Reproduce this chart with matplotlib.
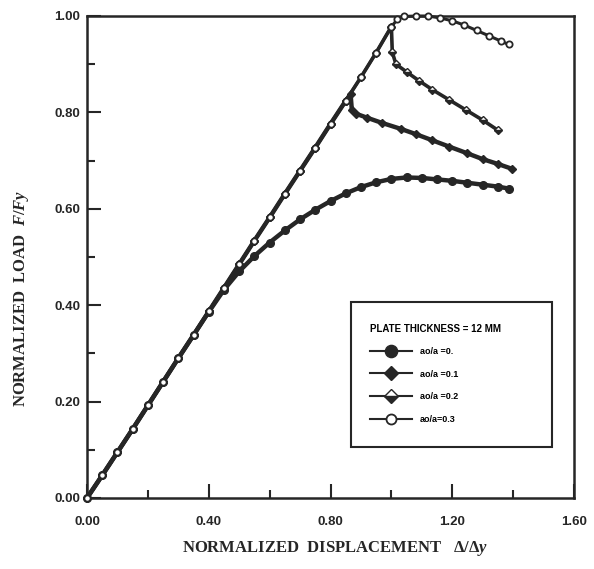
import matplotlib
matplotlib.use("Agg")
import matplotlib.pyplot as plt
from matplotlib.ticker import MultipleLocator, FormatStrFormatter
from matplotlib.patches import Rectangle

# load-displacement curves, plate thickness 12 mm
x_r0 = [0.00, 0.05, 0.10, 0.15, 0.20, 0.25, 0.30, 0.35, 0.40, 0.45, 0.50, 0.55, 0.60, 0.65,
        0.70, 0.75, 0.80, 0.85, 0.90, 0.95, 1.00, 1.05, 1.10, 1.15, 1.20, 1.25, 1.30, 1.35, 1.385]
y_r0 = [0.000, 0.047, 0.095, 0.143, 0.192, 0.241, 0.290, 0.338, 0.386, 0.432, 0.470, 0.502, 0.530, 0.555,
        0.578, 0.598, 0.616, 0.632, 0.645, 0.655, 0.662, 0.665, 0.664, 0.661, 0.658, 0.654, 0.650, 0.646, 0.642]

x_r1 = [0.00, 0.05, 0.10, 0.15, 0.20, 0.25, 0.30, 0.35, 0.40, 0.45, 0.50, 0.55, 0.60, 0.65,
        0.70, 0.75, 0.80, 0.85, 0.866, 0.870, 0.885, 0.92, 0.97, 1.03, 1.08, 1.135, 1.19, 1.25, 1.30, 1.35, 1.396]
y_r1 = [0.000, 0.047, 0.095, 0.143, 0.192, 0.241, 0.290, 0.338, 0.387, 0.436, 0.485, 0.534, 0.582, 0.631,
        0.679, 0.727, 0.776, 0.824, 0.838, 0.806, 0.797, 0.789, 0.778, 0.766, 0.755, 0.742, 0.729, 0.715, 0.703, 0.693, 0.683]

x_r2 = [0.00, 0.05, 0.10, 0.15, 0.20, 0.25, 0.30, 0.35, 0.40, 0.45, 0.50, 0.55, 0.60, 0.65,
        0.70, 0.75, 0.80, 0.85, 0.90, 0.95, 1.00, 1.003, 1.015, 1.05, 1.09, 1.135, 1.19, 1.245, 1.30, 1.35]
y_r2 = [0.000, 0.047, 0.095, 0.143, 0.192, 0.241, 0.290, 0.338, 0.387, 0.436, 0.485, 0.534, 0.582, 0.631,
        0.679, 0.727, 0.776, 0.824, 0.873, 0.924, 0.978, 0.925, 0.900, 0.884, 0.866, 0.847, 0.826, 0.805, 0.784, 0.763]

x_r3 = [0.00, 0.05, 0.10, 0.15, 0.20, 0.25, 0.30, 0.35, 0.40, 0.45, 0.50, 0.55, 0.60, 0.65,
        0.70, 0.75, 0.80, 0.85, 0.90, 0.95, 1.00, 1.02, 1.04, 1.08, 1.12, 1.16, 1.20, 1.24, 1.28, 1.32, 1.36, 1.385]
y_r3 = [0.000, 0.047, 0.095, 0.143, 0.192, 0.241, 0.290, 0.338, 0.387, 0.436, 0.485, 0.534, 0.582, 0.631,
        0.679, 0.727, 0.776, 0.824, 0.873, 0.924, 0.978, 0.993, 0.999, 1.000, 1.000, 0.996, 0.990, 0.981, 0.970, 0.959, 0.948, 0.941]

labels = ['ao/a =0.', 'ao/a =0.1', 'ao/a =0.2', 'ao/a=0.3']

plt.rcParams['mathtext.fontset'] = 'custom'
plt.rcParams['mathtext.rm'] = 'Liberation Serif:bold'
plt.rcParams['mathtext.it'] = 'Liberation Serif:italic:bold'

ink = '#262626'

fig = plt.figure(figsize=(5.94, 5.69), dpi=100)
ax = fig.add_axes([87 / 594, 1 - 498 / 569, 487 / 594, 482 / 569])

h0, = ax.plot(x_r0, y_r0, color=ink, lw=3.2, marker='o', ms=5.5, mfc=ink, mec=ink, zorder=3, clip_on=False)
h1, = ax.plot(x_r1, y_r1, color=ink, lw=3.2, marker='D', ms=4.5, mfc=ink, mec=ink, zorder=4, clip_on=False)
h2, = ax.plot(x_r2, y_r2, color=ink, lw=2.6, marker='D', ms=4.5, fillstyle='bottom', mfc=ink,
              markerfacecoloralt='white', mec=ink, mew=1, zorder=5, clip_on=False)
h3, = ax.plot(x_r3, y_r3, color=ink, lw=2.2, marker='o', ms=4.5, mfc='white', mec=ink, mew=1.3,
              zorder=6, clip_on=False)

ax.set_xlim(0, 1.6)
ax.set_ylim(0, 1.0)
ax.xaxis.set_major_locator(MultipleLocator(0.4))
ax.xaxis.set_minor_locator(MultipleLocator(0.2))
ax.yaxis.set_major_locator(MultipleLocator(0.2))
ax.yaxis.set_minor_locator(MultipleLocator(0.1))
ax.xaxis.set_major_formatter(FormatStrFormatter('%.2f'))
ax.yaxis.set_major_formatter(FormatStrFormatter('%.2f'))

for s in ax.spines.values():
    s.set_linewidth(1.8)
    s.set_color(ink)

ax.tick_params(which='both', direction='in', color=ink, width=1.5, top=False, right=False)
ax.tick_params(which='major', length=10)
ax.tick_params(which='minor', length=6)
ax.tick_params(axis='x', which='major', pad=13)
ax.tick_params(axis='y', which='major', pad=5)
for t in ax.get_xticklabels() + ax.get_yticklabels():
    t.set_fontfamily('Liberation Sans')
    t.set_fontweight('bold')
    t.set_fontsize(9.5)
    t.set_color(ink)

# legend box
ax.add_patch(Rectangle((0.542, 0.106), 0.413, 0.301, transform=ax.transAxes,
                       facecolor='white', edgecolor=ink, lw=1.5, zorder=7))
leg = ax.legend([h0, h1, h2, h3], labels, title='PLATE THICKNESS = 12 MM',
                loc='upper left', bbox_to_anchor=(0.582, 0.362), frameon=False,
                prop=dict(family='Liberation Sans', weight='bold', size=6.5),
                title_fontproperties=dict(family='Liberation Sans', weight='bold', size=7),
                alignment='left', markerscale=1.6, handlelength=4.6, handletextpad=0.9,
                labelspacing=1.5, borderpad=0, borderaxespad=0)
for line in leg.get_lines():
    line.set_linewidth(1.5)
leg.set_zorder(8)

fig.text(22 / 594, 1 - 298 / 569, r'NORMALIZED  LOAD  $\mathit{F/Fy}$', rotation=90,
         ha='center', va='center', family='Liberation Serif', weight='bold', size=12, color=ink)
fig.text(335 / 594, 1 - 548 / 569, r'NORMALIZED  DISPLACEMENT   $\mathit{Δ/Δy}$',
         ha='center', va='center', family='Liberation Serif', weight='bold', size=12, color=ink)

fig.savefig('out.png', dpi=100, facecolor='white')
